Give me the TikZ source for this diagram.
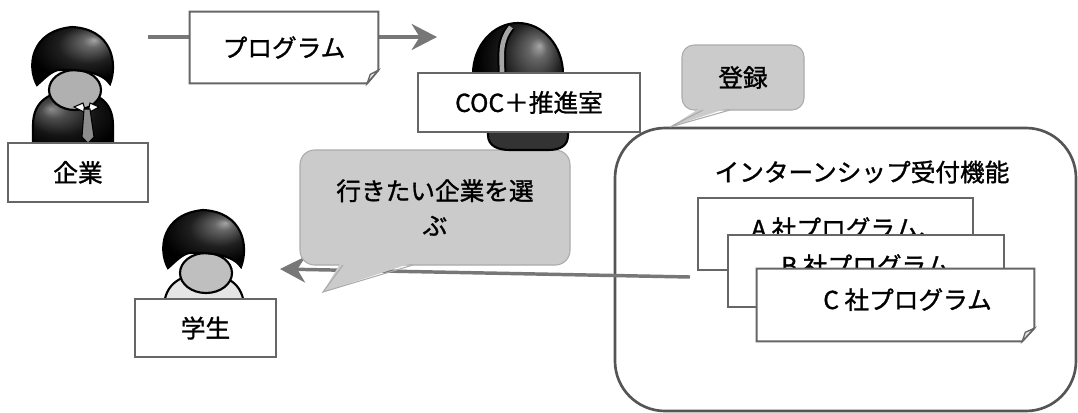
\documentclass[tikz,border=0pt]{standalone}
\usepackage{fontspec}
\newfontfamily\jpfont[FakeBold=1.2]{Noto Sans CJK JP}
\usetikzlibrary{arrows.meta}

\definecolor{boxline}{HTML}{666666}
\definecolor{flowgray}{HTML}{777777}
\definecolor{frameline}{HTML}{555555}
\definecolor{bubblefill}{HTML}{CBCBCB}
\definecolor{bubbleline}{HTML}{ABABAB}
\definecolor{facegray}{HTML}{B0B0B0}

% dark glossy hair and suit
\pgfdeclareradialshading{hairshade}{\pgfpoint{12bp}{14bp}}{%
  color(0bp)=(black!35); color(5bp)=(black!60); color(16bp)=(black!88);
  color(28bp)=(black); color(50bp)=(black)}
\pgfdeclareradialshading{suitshade}{\pgfpoint{-14bp}{8bp}}{%
  color(0bp)=(black!45); color(8bp)=(black!70); color(22bp)=(black!92);
  color(35bp)=(black); color(50bp)=(black)}

\tikzset{
  persbody/.style={shade, shading=suitshade},
  persface/.style={fill=facegray},
  outline/.style={draw=black, line width=1.6pt},
  % a person seen from the front, origin at the top of the hair
  person/.pic={
    \path[outline, persbody]
      (-39,116) -- (-39,98) .. controls (-39,74) and (-22,64) .. (1,64)
      .. controls (24,64) and (41,74) .. (41,98) -- (41,116) -- cycle;
    \path[outline, persface] (3,63) ellipse [x radius=26, y radius=20];
    \path[outline, shade, shading=hairshade]
      (-35,58) .. controls (-45,40) and (-42,4) .. (0,0)
      .. controls (40,2) and (46,36) .. (38,57)
      .. controls (31,46) and (10,42) .. (-14,43)
      .. controls (-22,45) and (-28,52) .. (-35,58) -- cycle;
  },
  % white collar and tie of the suit
  necktie/.pic={
    \path[draw=black, line width=0.8pt, fill=white] (2,80) -- (11,76) -- (14,86) -- cycle;
    \path[draw=black, line width=0.8pt, fill=white] (18,76) -- (27,80) -- (16,86) -- cycle;
    \path[draw=black, line width=0.8pt, fill=black!45]
      (12,82) -- (18,82) -- (22,110) -- (16,116) -- (10,110) -- cycle;
  },
}

\begin{document}
\begin{tikzpicture}[x=0.75pt, y=-0.75pt,
  every node/.style={font=\jpfont\fontsize{18.5}{26}\selectfont, inner sep=0pt},
  box/.style={draw=boxline, line width=1.5pt, fill=white},
  notebox/.style={fill=white},
  noteline/.style={draw=boxline, line width=1.5pt},
  flap/.style={draw=boxline, line width=1pt, fill=black!10},
  frame/.style={draw=frameline, line width=2pt, rounded corners=37.5pt},
  bubblebody/.style={fill=bubblefill, draw=bubbleline, line width=0.8pt},
  bubbleedge/.style={draw=bubbleline, line width=0.8pt},
  cardtext/.style={text height=14pt, text depth=8pt},
  flow/.style={draw=flowgray, line width=2.6pt,
    -{Stealth[length=19pt, width=19.5pt, inset=6pt, fill=flowgray]}},
]
\useasboundingbox (0,0) rectangle (1078,412);

% ---- internship intake function --------------------------------------
\node[frame, minimum width=345.75pt, minimum height=212.25pt] (intake) at (845.5,269.5) {};
\node (intaketitle) at (862,172) {インターンシップ受付機能};

\node[box, cardtext, minimum width=206.25pt, minimum height=54pt] (carda) at (835.5,234)
  {\hspace*{18pt}A 社プログラム、};
\node[box, cardtext, minimum width=207pt, minimum height=54pt] (cardb) at (866,271)
  {\hspace*{18pt}B 社プログラム、};
\node[notebox, cardtext, minimum width=207.75pt, minimum height=54pt] (cardc) at (895.5,305)
  {\hspace*{18pt}C 社プログラム};
\draw[noteline] (cardc.north west) -- (cardc.north east) -- ([yshift=9.75pt]cardc.south east)
  -- ([xshift=-9pt]cardc.south east) -- (cardc.south west) -- cycle;
\draw[flap] ([yshift=9.75pt]cardc.south east) -- ([xshift=-6.75pt, yshift=6.75pt]cardc.south east)
  -- ([xshift=-9pt]cardc.south east) -- cycle;

% ---- students choose a company ---------------------------------------
\coordinate (intakeout) at (690,277);
\coordinate (gakuseiin) at (280,269);
\draw[flow] (intakeout) -- (gakuseiin);

\node[bubblebody, rounded corners=11pt, minimum width=202.5pt, minimum height=86.25pt,
  align=center] (choose) at (435,207.5) {行きたい企業を選\\ぶ};
\fill[bubblefill] (341,262) -- (323,292) -- (415,262) -- cycle;
\draw[bubbleedge] (343,265) -- (323,292) -- (413,265);

% ---- people -----------------------------------------------------------
\pic at (72,27) {person};
\pic at (72,27) {necktie};
\pic[persbody/.style={fill=black!10}, persface/.style={fill=black!25}] at (203,210) {person};

% staff member with headset
\path[outline, left color=black!80, middle color=black!40, right color=black!80]
  (488,110) -- (488,135) .. controls (488,146) and (498,150) .. (510,150) -- (548,150)
  .. controls (560,150) and (568,146) .. (568,135) -- (568,110) -- cycle;
\path[outline, shade, shading=hairshade] (518,74) ellipse [x radius=45, y radius=51];
\draw[black, line width=6.5pt] (511,27) .. controls (499,42) and (502,55) .. (502,74);
\draw[black!35, line width=3.5pt] (511,27) .. controls (499,42) and (502,55) .. (502,74);

% ---- labels -----------------------------------------------------------
\node[box, minimum width=105pt, minimum height=44.25pt] (kigyo) at (78,172.5) {企業};
\node[box, minimum width=105.75pt, minimum height=43.5pt] (gakusei) at (205.5,328) {学生};
\node[box, minimum width=166.5pt, minimum height=44.25pt] (coc) at (529,102.5) {COC＋推進室};

% ---- program handed from company to COC+ -----------------------------
\coordinate (kigyoout) at (148,37);
\coordinate (cocin) at (437,37);
\draw[flow] (kigyoout) -- (cocin);
\node[notebox, minimum width=141pt, minimum height=53.25pt] (prog) at (284,47.5) {プログラム};
\draw[noteline] (prog.north west) -- (prog.north east) -- ([yshift=9.75pt]prog.south east)
  -- ([xshift=-8.25pt]prog.south east) -- (prog.south west) -- cycle;
\draw[flap] ([yshift=9.75pt]prog.south east) -- ([xshift=-6pt, yshift=6.75pt]prog.south east)
  -- ([xshift=-8.25pt]prog.south east) -- cycle;

% ---- registration callout --------------------------------------------
\node[bubblebody, rounded corners=9pt, minimum width=91.5pt, minimum height=48.75pt]
  (touroku) at (743,77.5) {登録};
\fill[bubblefill] (702,107) -- (670,127) -- (731,107) -- cycle;
\draw[bubbleedge] (703,110) -- (670,127) -- (730,110);
\end{tikzpicture}
\end{document}
